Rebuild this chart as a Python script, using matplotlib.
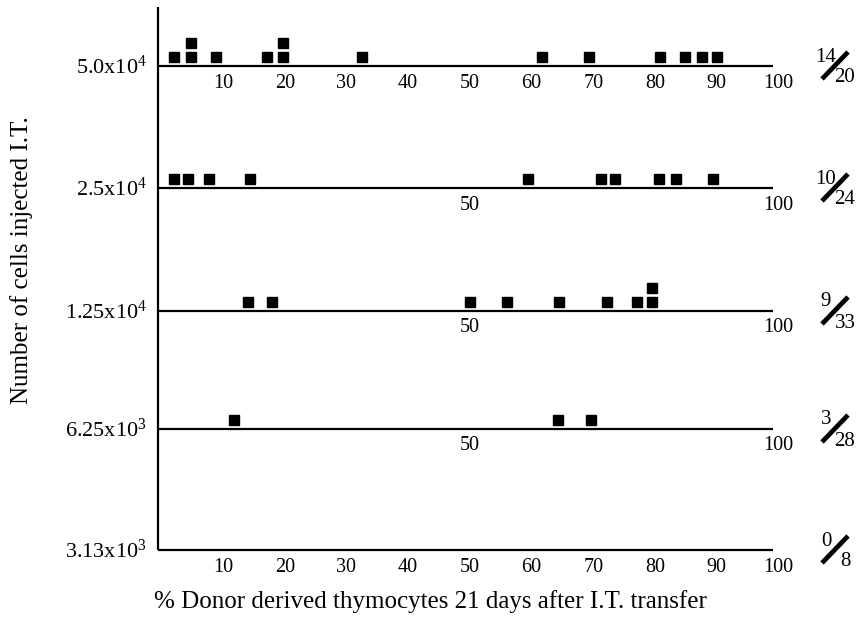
import matplotlib
matplotlib.use('Agg')
import matplotlib.pyplot as plt

plt.rcParams['font.family'] = ['Liberation Serif', 'DejaVu Serif']
plt.rcParams['mathtext.fontset'] = 'custom'
plt.rcParams['mathtext.rm'] = 'Liberation Serif'
plt.rcParams['mathtext.it'] = 'Liberation Serif'

# cells injected per row (top to bottom)
dose_labels = [r'5.0x10$^{4}$', r'2.5x10$^{4}$', r'1.25x10$^{4}$', r'6.25x10$^{3}$', r'3.13x10$^{3}$']
# % donor derived thymocytes, one square per mouse
row_5e4 = [2.0, 4.8, 4.8, 8.8, 17.2, 19.7, 19.7, 32.5, 61.7, 69.4, 80.9, 84.8, 87.6, 90.1]
row_25e3 = [2.0, 4.4, 7.8, 14.4, 59.5, 71.2, 73.5, 80.6, 83.4, 89.4]
row_125e2 = [14.0, 17.9, 50.1, 56.0, 64.5, 72.2, 77.1, 79.5, 79.5]
row_625e1 = [11.8, 64.3, 69.6]
row_313e1 = []
positives = [14, 10, 9, 3, 0]
totals = [20, 24, 33, 28, 8]
full_ticks = [10, 20, 30, 40, 50, 60, 70, 80, 90, 100]
half_ticks = [50, 100]

rows = [row_5e4, row_25e3, row_125e2, row_625e1, row_313e1]
row_ticks = [full_ticks, half_ticks, half_ticks, half_ticks, full_ticks]
row_y = [66, 188, 311, 429, 550]   # layout, in pixels from top

fig = plt.figure(figsize=(8.6, 6.22), dpi=100)
ax = fig.add_axes([0, 0, 1, 1])
x0, scale = 161.3, 6.17
ax.set_xlim(-x0 / scale, (860 - x0) / scale)
ax.set_ylim(622, 0)
ax.axis('off')

def px(v):
    return (v - x0) / scale

# vertical axis
ax.plot([-0.5, -0.5], [7, row_y[-1]], color='black', lw=1.6, solid_capstyle='butt')

for vals, y, ticks, lab, p, t in zip(rows, row_y, row_ticks, dose_labels, positives, totals):
    ax.plot([-0.5, 99.2], [y, y], color='black', lw=1.6, solid_capstyle='butt')
    seen = {}
    for v in vals:
        k = seen.get(v, 0)
        seen[v] = k + 1
        ax.plot(v, y - 9 - 14.5 * k, marker='s', ms=7.8, color='black', mec='black', ls='none')
    for tk in ticks:
        ax.text(tk, y + 17, str(tk), ha='center', va='center', fontsize=14.5)
    ax.text(px(147), y + 1, lab, ha='right', va='center', fontsize=16)
    # fraction responders / injected
    ax.plot([px(822), px(848)], [y + 13, y - 14], color='black', lw=3.4, solid_capstyle='butt')
    ax.text(px(826), y - 9, str(p), ha='center', va='center', fontsize=15)
    ax.text(px(845), y + 12, str(t), ha='center', va='center', fontsize=15)

ax.text(px(430), 602, '% Donor derived thymocytes 21 days after I.T. transfer',
        ha='center', va='center', fontsize=18)
ax.text(px(22), 260, 'Number of cells injected I.T.', rotation=90,
        ha='center', va='center', fontsize=18)

fig.savefig('out.png', dpi=100)
